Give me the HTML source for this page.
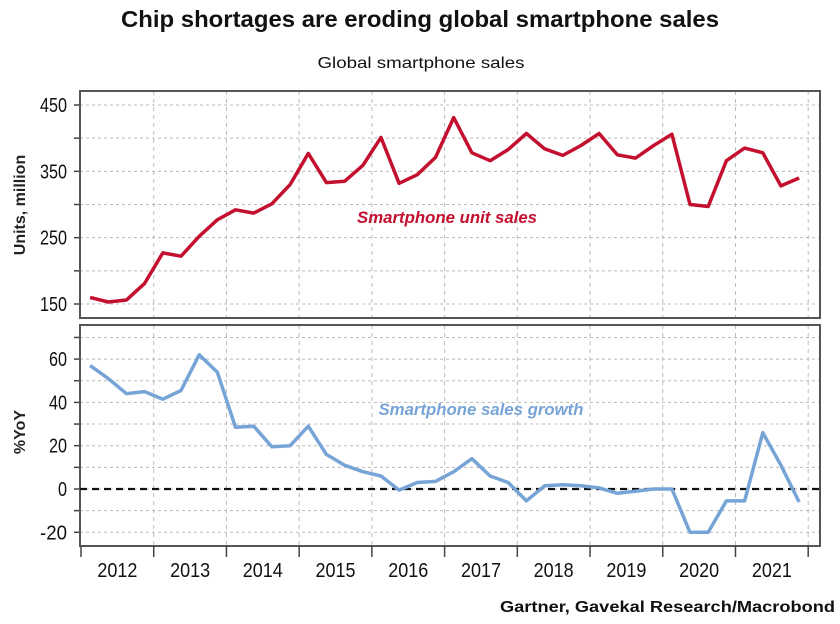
<!DOCTYPE html>
<html><head><meta charset="utf-8">
<style>
html,body{margin:0;padding:0;background:#fff;}
svg{display:block;font-family:"Liberation Sans",sans-serif;}
</style></head>
<body>
<svg id="chart" width="840" height="624" viewBox="0 0 840 624" xmlns="http://www.w3.org/2000/svg">
<text x="420" y="27" text-anchor="middle" font-size="23" font-weight="bold" textLength="598" lengthAdjust="spacingAndGlyphs" fill="#111">Chip shortages are eroding global smartphone sales</text>
<text x="421" y="68" text-anchor="middle" font-size="16" textLength="207" lengthAdjust="spacingAndGlyphs" fill="#111">Global smartphone sales</text>
<text x="835" y="612" text-anchor="end" font-size="16" font-weight="bold" textLength="335" lengthAdjust="spacingAndGlyphs" fill="#111">Gartner, Gavekal Research/Macrobond</text>
<g id="g"></g>
</svg>
<script>
const quarters = ["2012Q1","2012Q2","2012Q3","2012Q4","2013Q1","2013Q2","2013Q3","2013Q4","2014Q1","2014Q2","2014Q3","2014Q4","2015Q1","2015Q2","2015Q3","2015Q4","2016Q1","2016Q2","2016Q3","2016Q4","2017Q1","2017Q2","2017Q3","2017Q4","2018Q1","2018Q2","2018Q3","2018Q4","2019Q1","2019Q2","2019Q3","2019Q4","2020Q1","2020Q2","2020Q3","2020Q4","2021Q1","2021Q2","2021Q3","2021Q4"];
const unitSales = [160,153,156,181,227,222,252,277,292,287,301,330,377,333,335,359,401,332,345,371,431,378,366,383,407,384,374,389,407,375,370,389,406,300,297,366,385,378,328,340];
const growthPct = [57,51,44,45,41.5,45.5,62,54,28.5,29,19.5,20,29,16,11,8,6,-0.5,3,3.5,8,14,6,3,-5.5,1.5,2,1.5,0.5,-2,-1,0,0,-20,-20,-5.5,-5.5,26,11,-6];
const years = ["2012","2013","2014","2015","2016","2017","2018","2019","2020","2021"];
const topTicks = [150,250,350,450];
const botTicks = [-20,0,20,40,60];

const NS="http://www.w3.org/2000/svg";
const g=document.getElementById('g');
function mk(tag,attrs,parent){const e=document.createElementNS(NS,tag);for(const k in attrs)e.setAttribute(k,attrs[k]);(parent||g).appendChild(e);return e;}
const X0=81, QW=18.18, L=80, R=820;
const xq=i=>X0+QW*(i+0.5);
const xyear=j=>X0+QW*4*j;
const yTop=v=>304-(v-150)*0.6633;
const yBot=v=>489-v*2.165;

function panel(name,top,bottom,minV,maxV,step,yf,ticks,title,titleY){
  const p=mk('g',{});
  
  
  for(let v=minV;v<=maxV+1e-9;v+=step){
    const y=yf(v);
    const l=mk('line',{x1:L,x2:R,y1:y,y2:y,stroke:'#bbb','stroke-width':1,'stroke-dasharray':'3,3'},p);
    
    
    const t=mk('line',{x1:L-6,x2:L,y1:y,y2:y,stroke:'#444','stroke-width':1.5},p);
    
    
  }
  for(let j=1;j<=10;j++){
    const x=xyear(j);
    const l=mk('line',{x1:x,x2:x,y1:top,y2:bottom,stroke:'#bbb','stroke-width':1,'stroke-dasharray':'4,4'},p);
    
    
  }
  ticks.forEach(v=>{
    const t=mk('text',{x:67,y:yf(v)+7,'text-anchor':'end','font-size':20,fill:'#111',textLength:String(v).length*9,lengthAdjust:'spacingAndGlyphs'},p);
    t.textContent=v;
    
    
  });
  const r=mk('rect',{x:L,y:top,width:R-L,height:bottom-top,fill:'none',stroke:'#555','stroke-width':2},p);
  
  
  const at=mk('text',{x:0,y:0,transform:`translate(25,${titleY}) rotate(-90)`,'text-anchor':'middle','font-size':16,'font-weight':'bold',fill:'#222'},p);
  at.textContent=title;
  
  
}
panel('units',91,318,150,450,50,yTop,topTicks,'Units, million',205);
panel('growth',325,546,-20,70,10,yBot,botTicks,'%YoY',432);

const z=mk('line',{x1:L,x2:R,y1:yBot(0),y2:yBot(0),stroke:'#111','stroke-width':2.2,'stroke-dasharray':'7,5'});



for(let j=0;j<=10;j++){
  const t=mk('line',{x1:xyear(j),x2:xyear(j),y1:546,y2:557,stroke:'#444','stroke-width':1.5});
  
  
}
years.forEach((yr,j)=>{
  const t=mk('text',{x:xyear(j)+QW*2,y:577,'text-anchor':'middle','font-size':20,fill:'#111',textLength:40,lengthAdjust:'spacingAndGlyphs'});
  t.textContent=yr;
  
  
});

const p1=mk('path',{d:unitSales.map((v,i)=>(i?'L':'M')+xq(i).toFixed(1)+','+yTop(v).toFixed(1)).join(''),fill:'none',stroke:'#c4102f','stroke-width':3.5,'stroke-linejoin':'round'});


const p2=mk('path',{d:growthPct.map((v,i)=>(i?'L':'M')+xq(i).toFixed(1)+','+yBot(v).toFixed(1)).join(''),fill:'none',stroke:'#77a4d6','stroke-width':3.5,'stroke-linejoin':'round'});



const a1=mk('text',{x:447,y:223,'text-anchor':'middle','font-size':17,'font-style':'italic','font-weight':'bold',fill:'#c4102f',textLength:180,lengthAdjust:'spacingAndGlyphs'});
a1.textContent='Smartphone unit sales';


const a2=mk('text',{x:481,y:415,'text-anchor':'middle','font-size':17,'font-style':'italic','font-weight':'bold',fill:'#77a4d6',textLength:205,lengthAdjust:'spacingAndGlyphs'});
a2.textContent='Smartphone sales growth';


</script>
</body></html>
